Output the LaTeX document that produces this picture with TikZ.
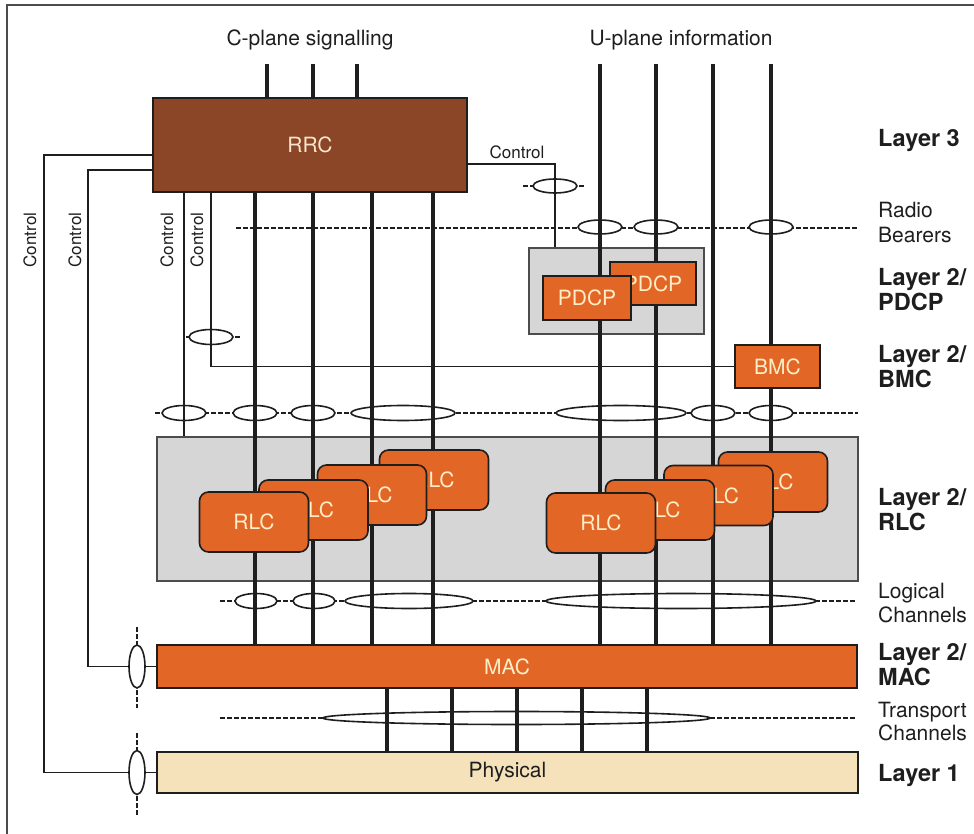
\documentclass[tikz,border=0pt]{standalone}
\usepackage{fontspec}
\setmainfont{TeX Gyre Heros}
\usetikzlibrary{shapes.geometric}
\definecolor{orng}{RGB}{226,102,38}
\definecolor{rrcbrown}{RGB}{138,70,38}
\definecolor{phyfill}{RGB}{246,226,186}
\definecolor{cream}{RGB}{255,238,200}
\definecolor{hatch}{RGB}{214,214,214}
\definecolor{ink}{RGB}{30,30,30}
\pgfdeclarelayer{back}
\pgfdeclarelayer{mid}
\pgfsetlayers{back,mid,main}
\begin{document}
\begin{tikzpicture}[x=1pt,y=-1pt,
  thickln/.style={draw=ink, line width=3.6pt},
  thinln/.style={draw=ink, line width=1.6pt},
  dashln/.style={draw=ink, line width=1.6pt, dash pattern=on 4.5pt off 2.5pt},
  ell/.style={ellipse, draw=ink, fill=white, line width=1.6pt, inner sep=0pt},
  obox/.style={draw=ink, line width=1.6pt, fill=orng, text=cream, font=\fontsize{21}{25}\selectfont, inner sep=0pt},
  rlcbox/.style={obox, rounded corners=9pt, minimum width=109pt, minimum height=60pt},
  gbox/.style={draw=black!70, line width=1.3pt, fill=hatch, inner sep=0pt},
  lbl/.style={font=\fontsize{21}{25}\selectfont, text=ink, anchor=base west, inner sep=0pt},
  blbl/.style={font=\fontsize{23.5}{27}\selectfont\bfseries, text=ink, anchor=base west, inner sep=0pt},
  ctl/.style={font=\fontsize{17}{20}\selectfont, text=ink, inner sep=0pt}]
\useasboundingbox (0,0) rectangle (974,834);

% ---------- main layer: boxes ----------
\node[obox, fill=rrcbrown, text={rgb,255:red,250;green,228;blue,205}, minimum width=314pt, minimum height=94pt] (rrc) at (310,145) {RRC};
\node[obox, minimum width=86pt, minimum height=43pt] (pdcp2) at (653,283.5) {PDCP};
\node[obox, minimum width=88pt, minimum height=44pt] (pdcp1) at (587,298) {PDCP};
\node[obox, minimum width=85pt, minimum height=43pt] (bmc) at (777.5,366.5) {BMC};

\node[rlcbox] (lr4) at (434,480) {RLC};
\node[rlcbox] (lr3) at (372,495) {RLC};
\node[rlcbox] (lr2) at (313.5,510) {RLC};
\node[rlcbox] (lr1) at (254,522) {RLC};
\node[rlcbox] (rr4) at (773,482) {RLC};
\node[rlcbox] (rr3) at (718.5,495.5) {RLC};
\node[rlcbox] (rr2) at (660,510) {RLC};
\node[rlcbox] (rr1) at (601,523) {RLC};

\node[obox, minimum width=700pt, minimum height=43pt] (mac) at (507,666.5) {MAC};
\node[obox, fill=phyfill, text=ink, minimum width=701pt, minimum height=41pt] (phys) at (507.5,772.5) {Physical};

% ---------- labels ----------
\node[lbl, anchor=base] (ctitle) at (310,46) {C-plane signalling};
\node[lbl, anchor=base] (utitle) at (681,46) {U-plane information};

\node[blbl] (l3) at (878,147) {Layer 3};
\node[lbl] (rb1t) at (878,218) {Radio};
\node[lbl] (rb2t) at (878,243) {Bearers};
\node[blbl] (pd1t) at (878,285) {Layer 2/};
\node[blbl] (pd2t) at (878,310) {PDCP};
\node[blbl] (bm1t) at (878,362) {Layer 2/};
\node[blbl] (bm2t) at (878,387) {BMC};
\node[blbl] (rl1t) at (878,505) {Layer 2/};
\node[blbl] (rl2t) at (878,530) {RLC};
\node[lbl] (lc1t) at (878,598) {Logical};
\node[lbl] (lc2t) at (878,622) {Channels};
\node[blbl] (ma1t) at (878,660) {Layer 2/};
\node[blbl] (ma2t) at (878,685) {MAC};
\node[lbl] (tc1t) at (878,717) {Transport};
\node[lbl] (tc2t) at (878,740) {Channels};
\node[blbl] (l1t) at (878,781) {Layer 1};

\node[ctl, rotate=90] (cl1) at (30,240) {Control};
\node[ctl, rotate=90] (cl2) at (75,240) {Control};
\node[ctl, rotate=90] (cl3) at (167,240) {Control};
\node[ctl, rotate=90] (cl4) at (197,240) {Control};
\node[ctl] (cl5) at (517,152) {Control};

% ---------- back layer: shaded areas, dashed lines, ellipses ----------
\begin{pgfonlayer}{back}
\fill[white] (0,0) rectangle (974,834);
\draw[draw=black!70, line width=1.5pt] (7,834) -- (7,5) -- (974,5);
\node[gbox, minimum width=175pt, minimum height=86pt] (pdcpbg) at (616.5,291) {};
\node[gbox, minimum width=701pt, minimum height=144pt] (rlcbg) at (507.5,509) {};

\draw[dashln] (236,228) -- (857,228);
\draw[dashln] (523,186) -- (586,186);
\draw[dashln] (186,337) -- (240,337);
\draw[dashln] (155,413) -- (858,413);
\draw[dashln] (220,601) -- (856,601);
\draw[dashln] (220,718) -- (857,718);
\draw[dashln] (137,627) -- (137,708);
\draw[dashln] (137,733) -- (137,817);

\node[ell, minimum width=44pt, minimum height=14pt] (ectl) at (555,186) {};
\node[ell, minimum width=44pt, minimum height=14pt] (rb1) at (600,227) {};
\node[ell, minimum width=44pt, minimum height=14pt] (rb2) at (656,227) {};
\node[ell, minimum width=44pt, minimum height=14pt] (rb3) at (771,227) {};
\node[ell, minimum width=44pt, minimum height=15pt] (ebmc) at (211,337) {};

\node[ell, minimum width=44pt, minimum height=15pt] (r1) at (184,413) {};
\node[ell, minimum width=44pt, minimum height=15pt] (r2) at (255,413) {};
\node[ell, minimum width=44pt, minimum height=15pt] (r3) at (313,413) {};
\node[ell, minimum width=104pt, minimum height=15pt] (r4) at (403,413) {};
\node[ell, minimum width=130pt, minimum height=15pt] (r5) at (621,413) {};
\node[ell, minimum width=44pt, minimum height=15pt] (r6) at (713,413) {};
\node[ell, minimum width=44pt, minimum height=15pt] (r7) at (771,413) {};

\node[ell, minimum width=42pt, minimum height=15pt] (g1) at (256,601) {};
\node[ell, minimum width=42pt, minimum height=15pt] (g2) at (314,601) {};
\node[ell, minimum width=128pt, minimum height=15pt] (g3) at (409,601) {};
\node[ell, minimum width=270pt, minimum height=15pt] (g4) at (681,601) {};

\node[ell, minimum width=387pt, minimum height=13pt] (tr) at (516.5,718) {};

\node[ell, minimum width=16pt, minimum height=43pt] (emac) at (137,666.5) {};
\node[ell, minimum width=16pt, minimum height=44pt] (ephy) at (137,772.5) {};
\end{pgfonlayer}

% ---------- mid layer: lines ----------
\coordinate (ct1) at (267,64);
\coordinate (ct2) at (313,64);
\coordinate (ct3) at (357,64);
\coordinate (ut1) at (600,64);
\coordinate (ut2) at (656,64);
\coordinate (ut3) at (713,64);
\coordinate (ut4) at (771,64);
\coordinate (c1) at (255,0);
\coordinate (c2) at (313,0);
\coordinate (c3) at (372,0);
\coordinate (c4) at (433,0);
\coordinate (t1) at (387,0);
\coordinate (t2) at (452,0);
\coordinate (t3) at (517,0);
\coordinate (t4) at (582,0);
\coordinate (t5) at (647,0);
\coordinate (rcy) at (0,164);
\coordinate (w1y) at (0,155);
\coordinate (w1c) at (44,155);
\coordinate (w2y) at (0,170);
\coordinate (w2c) at (88,170);

\begin{pgfonlayer}{mid}
\draw[thickln] (ct1) -- (rrc.north -| ct1);
\draw[thickln] (ct2) -- (rrc.north -| ct2);
\draw[thickln] (ct3) -- (rrc.north -| ct3);
\draw[thickln] (rrc.south -| c1) -- (mac.north -| c1);
\draw[thickln] (rrc.south -| c2) -- (mac.north -| c2);
\draw[thickln] (rrc.south -| c3) -- (mac.north -| c3);
\draw[thickln] (rrc.south -| c4) -- (mac.north -| c4);
\draw[thickln] (ut1) -- (mac.north -| ut1);
\draw[thickln] (ut2) -- (mac.north -| ut2);
\draw[thickln] (ut3) -- (mac.north -| ut3);
\draw[thickln] (ut4) -- (mac.north -| ut4);
\draw[thickln] (mac.south -| t1) -- (phys.north -| t1);
\draw[thickln] (mac.south -| t2) -- (phys.north -| t2);
\draw[thickln] (mac.south -| t3) -- (phys.north -| t3);
\draw[thickln] (mac.south -| t4) -- (phys.north -| t4);
\draw[thickln] (mac.south -| t5) -- (phys.north -| t5);

\draw[thinln] (rrc.south -| r1) -- (rlcbg.north -| r1);
\draw[thinln] (rrc.south -| ebmc) |- (bmc.west);
\draw[thinln] (rrc.east |- rcy) -| (pdcpbg.north -| ectl);
\draw[thinln] (rrc.west |- w1y) -- (w1c) |- (ephy.west);
\draw[thinln] (ephy.east) -- (phys.west |- ephy);
\draw[thinln] (rrc.west |- w2y) -- (w2c) |- (emac.west);
\draw[thinln] (emac.east) -- (mac.west |- emac);
\end{pgfonlayer}
\end{tikzpicture}
\end{document}
